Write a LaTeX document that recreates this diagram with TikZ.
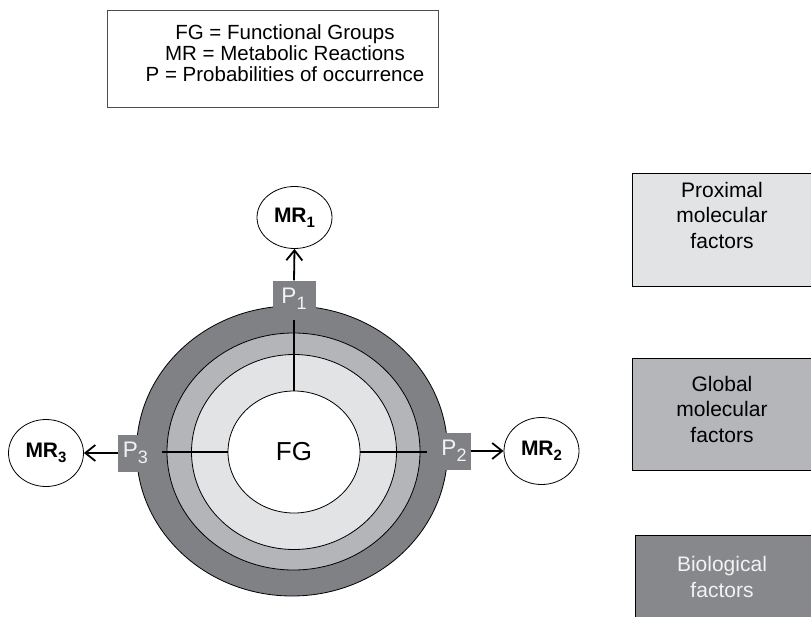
\documentclass[tikz,border=0pt]{standalone}
\usepackage{fontspec}
\setmainfont{Liberation Sans}
\usetikzlibrary{shapes.geometric,arrows.meta}

\definecolor{ringdark}{RGB}{128,129,133}
\definecolor{ringmid}{RGB}{180,181,184}
\definecolor{ringlight}{RGB}{226,227,229}
\definecolor{biofill}{RGB}{135,136,139}
\definecolor{globfill}{RGB}{181,182,185}
\definecolor{proxfill}{RGB}{226,227,229}
\definecolor{paletext}{RGB}{242,242,242}

% label with a large lowered index
\newcommand{\idxlabel}[4]{#1\raisebox{-#4pt}{\fontsize{#3}{#3}\selectfont #2}}

\tikzset{
  ring/.style={draw=black, line width=0.8pt},
  mrnode/.style={ellipse, draw=black, line width=0.8pt, fill=white,
    minimum width=75, minimum height=67, inner sep=0pt,
    font=\fontsize{21}{24}\selectfont\bfseries},
  pbox/.style={rectangle, fill=ringdark, minimum width=35, minimum height=37,
    inner sep=0pt, text=paletext, font=\fontsize{22.5}{26}\selectfont},
  spoke/.style={draw=black, line width=1.5pt},
  arrow/.style={draw=black, line width=1.8pt,
    -{Straight Barb[length=10pt,width=16pt,line width=1.8pt]}},
  factorbox/.style={draw=black, line width=0.8pt},
  factortext/.style={align=center, font=\fontsize{21}{25.5}\selectfont},
  legendbox/.style={draw=black!70, line width=0.8pt, minimum width=331,
    minimum height=97, inner sep=0pt},
  legendtext/.style={align=center, font=\fontsize{20.5}{21.3}\selectfont}
}

\begin{document}
\begin{tikzpicture}[x=1pt, y=-1pt]
\useasboundingbox (0,0) rectangle (811,616);

% legend
\node[legendbox] (legend) at (272.5,58.5) {};
\node[legendtext] (legendlines) at (285,53)
  {FG = Functional Groups\\MR = Metabolic Reactions\\P = Probabilities of occurrence};

% factor boxes on the right
\filldraw[factorbox, fill=proxfill] (632,173) rectangle (813,286);
\node[factortext] (prox) at (722,215) {Proximal\\molecular\\factors};
\filldraw[factorbox, fill=globfill] (632,358) rectangle (813,470);
\node[factortext] (glob) at (722,409) {Global\\molecular\\factors};
\filldraw[factorbox, fill=biofill] (635,535) rectangle (813,620);
\node[factortext, text=paletext] (bio) at (722,577) {Biological\\factors};

% concentric layers around the functional groups
\filldraw[ring, fill=ringdark]  (292,451) ellipse [x radius=155.5, y radius=145];
\filldraw[ring, fill=ringmid]   (293.5,451.5) ellipse [x radius=126.5, y radius=118.5];
\filldraw[ring, fill=ringlight] (294,452) ellipse [x radius=102.5, y radius=97.5];
\node[ellipse, draw=black, line width=0.8pt, fill=white, minimum width=132,
  minimum height=122, inner sep=0pt, font=\fontsize{26}{30}\selectfont]
  (fg) at (294,452) {FG};

% probability tabs
\node[pbox, minimum width=43] (p1) at (294,299) {\idxlabel{P}{1}{18}{5.5}};
\node[pbox, minimum width=34] (p2) at (454,451) {\idxlabel{P}{2}{18}{5.5}};
\node[pbox] (p3) at (135.5,453) {\idxlabel{P}{3}{18}{5.5}};

% spokes from FG
\coordinate (topend) at (294,320);
\coordinate (rightend) at (427,452);
\coordinate (leftend) at (162,452);
\draw[spoke] (topend) -- (fg.north);
\draw[spoke] (fg.east) -- (rightend);
\draw[spoke] (leftend) -- (fg.west);

% metabolic reactions
\node[mrnode, minimum height=62] (mr1) at (294.5,217.5) {\idxlabel{MR}{1}{15}{5}};
\node[mrnode] (mr2) at (541.5,451) {\idxlabel{MR}{2}{15}{5}};
\node[mrnode] (mr3) at (46,453) {\idxlabel{MR}{3}{15}{5}};

\draw[arrow] (p1.north) -- (mr1.south);
\draw[arrow] (p2.east) -- (mr2.west);
\draw[arrow] (p3.west) -- (mr3.east);
\end{tikzpicture}
\end{document}
